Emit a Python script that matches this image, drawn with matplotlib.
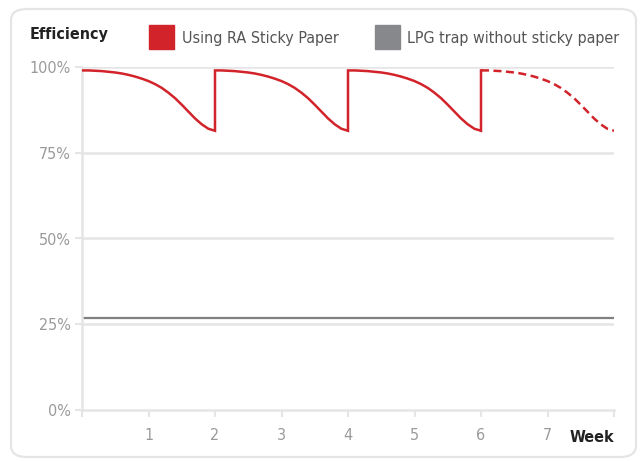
import numpy as np
import matplotlib.pyplot as plt
from matplotlib.patches import FancyBboxPatch, Rectangle

# one refill cycle of the sticky paper (weeks since refill -> efficiency %)
cycle_weeks = [0.0, 0.1, 0.2, 0.3, 0.4, 0.5, 0.6, 0.7, 0.8, 0.9, 1.0,
               1.1, 1.2, 1.3, 1.4, 1.5, 1.6, 1.7, 1.8, 1.9, 2.0]
cycle_eff = [99.0, 99.0, 98.9, 98.8, 98.6, 98.4, 98.1, 97.7, 97.2, 96.6, 95.9,
             95.0, 93.9, 92.5, 90.9, 89.0, 87.0, 85.0, 83.3, 82.0, 81.4]
refill_weeks = [0, 2, 4, 6]
projected_from = 6

lpg_weeks = [0, 8]
lpg_eff = [26.8, 26.8]

x_ticks = [0, 1, 2, 3, 4, 5, 6, 7, 8]
x_labels = ['', '1', '2', '3', '4', '5', '6', '7', '']
y_ticks = [0, 25, 50, 75, 100]
y_labels = ['0%', '25%', '50%', '75%', '100%']

red = '#d2232a'
grey = '#87888c'
light = '#e5e5e5'
label_c = '#9a9a9a'

plt.rcParams['font.family'] = ['DejaVu Sans']
plt.rcParams['font.stretch'] = 'condensed'

fig = plt.figure(figsize=(6.4, 4.61), dpi=100)
fig.patches.append(FancyBboxPatch((11 / 640, 4 / 461), 625 / 640, 448 / 461,
                                  boxstyle='round,pad=0,rounding_size=0.025',
                                  transform=fig.transFigure, fc='white',
                                  ec=light, lw=1.6, zorder=-5))

ax = fig.add_axes([82 / 640, 51 / 461, 532 / 640, 343 / 461])
ax.set_zorder(2)
ax.set_facecolor('none')

for y in y_ticks[1:]:
    ax.axhline(y, color=light, lw=1.8, zorder=1)

ax.plot(lpg_weeks, lpg_eff, color='#808080', lw=1.6, zorder=2)

# solid segments up to the projection, with jumps on refill
xs, ys = [], []
for s in refill_weeks:
    if s >= projected_from:
        break
    xs += [s + w for w in cycle_weeks]
    ys += cycle_eff
ax.plot(xs + [projected_from], ys + [cycle_eff[0]], color=red, lw=1.8,
        zorder=3, solid_joinstyle='miter')
ax.plot([projected_from + w for w in cycle_weeks], cycle_eff, color=red,
        lw=1.8, ls=(0, (3.2, 1.8)), zorder=3)

ax.set_xlim(0, 8)
ax.set_ylim(0, 100)
ax.set_xticks(x_ticks)
ax.set_xticklabels(x_labels)
ax.set_yticks(y_ticks)
ax.set_yticklabels(y_labels)
for side in ['top', 'right']:
    ax.spines[side].set_visible(False)
for side in ['left', 'bottom']:
    ax.spines[side].set_color(light)
    ax.spines[side].set_linewidth(1.8)
ax.tick_params(axis='both', colors=light, labelcolor=label_c, width=1.5,
               length=5, labelsize=11.5)
ax.tick_params(axis='x', pad=8)
ax.tick_params(axis='y', pad=3)

fig.text(30 / 640, 1 - 35 / 461, 'Efficiency', fontsize=11.5, fontweight='bold',
         color='#222222', va='center', ha='left')
fig.text(614 / 640, 1 - 437 / 461, 'Week', fontsize=11.5, fontweight='bold',
         color='#222222', va='center', ha='right')

fig.patches.append(Rectangle((149 / 640, 1 - 49 / 461), 25 / 640, 24 / 461,
                             transform=fig.transFigure, color=red))
fig.text(182 / 640, 1 - 38 / 461, 'Using RA Sticky Paper', fontsize=11.5,
         color='#555555', va='center', ha='left')
fig.patches.append(Rectangle((375 / 640, 1 - 49 / 461), 25 / 640, 24 / 461,
                             transform=fig.transFigure, color=grey))
fig.text(407 / 640, 1 - 38 / 461, 'LPG trap without sticky paper', fontsize=11.5,
         color='#555555', va='center', ha='left')

fig.savefig('out.png', dpi=100)
